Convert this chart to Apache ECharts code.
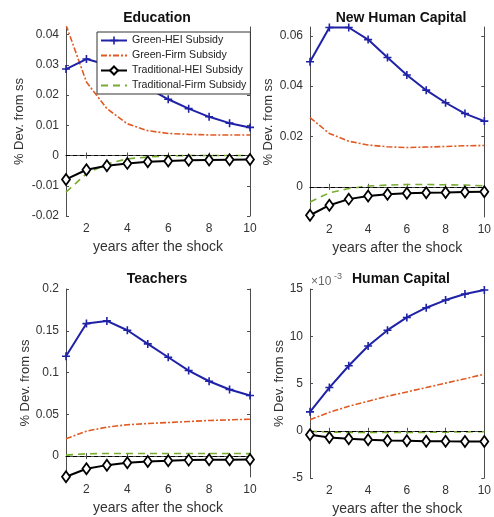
<!DOCTYPE html>
<html>
<head>
<meta charset="utf-8">
<script src="https://cdn.jsdelivr.net/npm/echarts@6/dist/echarts.min.js"></script>
<style>
html,body{margin:0;padding:0;background:#fff;}
#chart{width:494px;height:517px;}
</style>
</head>
<body>
<div id="chart"></div>
<script>
// ---------- data ----------
const years = [1,2,3,4,5,6,7,8,9,10];
const seriesNames = ['Green-HEI Subsidy','Green-Firm Subsidy','Traditional-HEI Subsidy','Traditional-Firm Subsidy'];
const panelTitles = ['Education','New Human Capital','Teachers','Human Capital'];
const xTicks = [2,4,6,8,10];

// Education
const eduGreenHEI  = [0.0286,0.0319,0.0300,0.0262,0.0224,0.0186,0.0155,0.0128,0.0107,0.0093];
const eduGreenFirm = [0.0432,0.0243,0.0155,0.0105,0.0082,0.0073,0.0070,0.0068,0.0068,0.0068];
const eduTradHEI   = [-0.0079,-0.0047,-0.0034,-0.0026,-0.0021,-0.0018,-0.0016,-0.0015,-0.0014,-0.0013];
const eduTradFirm  = [-0.0121,-0.0060,-0.0028,-0.0011,-0.0005,-0.0001,0.0000,0.0000,0.0000,0.0000];
const eduTicks = [-0.02,-0.01,0,0.01,0.02,0.03,0.04];

// New Human Capital
const nhcGreenHEI  = [0.0497,0.0633,0.0633,0.0585,0.0514,0.0444,0.0384,0.0334,0.0291,0.0261];
const nhcGreenFirm = [0.0275,0.0212,0.0181,0.0166,0.0159,0.0156,0.0158,0.0160,0.0163,0.0164];
const nhcTradHEI   = [-0.0113,-0.0073,-0.0049,-0.0037,-0.0030,-0.0026,-0.0024,-0.0023,-0.0021,-0.0020];
const nhcTradFirm  = [-0.0060,-0.0024,-0.0007,0.0003,0.0007,0.0009,0.0009,0.0008,0.0007,0.0004];
const nhcTicks = [0,0.02,0.04,0.06];

// Teachers
const teaGreenHEI  = [0.1195,0.1586,0.1618,0.1506,0.1343,0.1183,0.1024,0.0896,0.0797,0.0725];
const teaGreenFirm = [0.0207,0.0299,0.0347,0.0375,0.0390,0.0402,0.0414,0.0426,0.0434,0.0442];
const teaTradHEI   = [-0.0247,-0.0151,-0.0108,-0.0080,-0.0064,-0.0056,-0.0048,-0.0044,-0.0044,-0.0040];
const teaTradFirm  = [0.0012,0.0028,0.0032,0.0032,0.0032,0.0032,0.0032,0.0032,0.0031,0.0030];
const teaTicks = [0,0.05,0.1,0.15,0.2];

// Human Capital (x 10^-3)
const hcGreenHEI  = [2.00,4.57,6.88,8.97,10.64,11.99,13.02,13.83,14.47,14.90];
const hcGreenFirm = [1.17,1.95,2.59,3.12,3.65,4.11,4.57,5.04,5.50,5.99];
const hcTradHEI   = [-0.43,-0.71,-0.85,-0.96,-1.03,-1.06,-1.10,-1.12,-1.13,-1.14];
const hcTradFirm  = [-0.07,-0.14,-0.18,-0.18,-0.18,-0.18,-0.17,-0.15,-0.12,-0.10];
const hcTicks = [-5,0,5,10,15];

// ---------- layout / style ----------
const FONT = 'Liberation Sans, Arial, Helvetica, sans-serif';
const AX = '#4d4d4d';
const TXT = '#333';
const panels = [
  {grid:{left:66, top:27, width:184, height:189}, min:-0.02, max:0.0425, ticks:eduTicks, data:[eduGreenHEI,eduGreenFirm,eduTradHEI,eduTradFirm], nameGap:40, cx:157, ty:17},
  {grid:{left:310, top:27, width:184, height:190}, min:-0.012, max:0.0635, ticks:nhcTicks, data:[nhcGreenHEI,nhcGreenFirm,nhcTradHEI,nhcTradFirm], nameGap:35, cx:401, ty:17},
  {grid:{left:66, top:289, width:184, height:188}, min:-0.025, max:0.2, ticks:teaTicks, data:[teaGreenHEI,teaGreenFirm,teaTradHEI,teaTradFirm], nameGap:34, cx:157, ty:278},
  {grid:{left:310, top:289, width:184, height:189}, min:-5, max:15, ticks:hcTicks, data:[hcGreenHEI,hcGreenFirm,hcTradHEI,hcTradFirm], nameGap:23, cx:401, ty:278}
];

const BLUE = '#1f22a6', ORANGE = '#e25a22', GREEN = '#77ac30', BLACK = '#000';
const plusPath = 'path://M4,0h2v4h4v2h-4v4h-2v-4h-4v-2h4z';
const CLEAR = 'rgba(0,0,0,0)';

const grids = [], xAxes = [], yAxes = [], series = [], titles = [];
panels.forEach((p, i) => {
  grids.push(Object.assign({containLabel:false}, p.grid));
  const axLine = {show:true, lineStyle:{color:AX, width:1}};
  xAxes.push({type:'value', gridIndex:i, min:1, max:10, position:'bottom',
    axisLine:axLine, splitLine:{show:false},
    axisTick:{inside:true, length:3, lineStyle:{color:AX}, customValues:xTicks},
    axisLabel:{fontSize:12, color:TXT, fontFamily:FONT, margin:7, customValues:xTicks},
    name:'years after the shock', nameLocation:'middle', nameGap:24,
    nameTextStyle:{fontSize:14, color:TXT, fontFamily:FONT}});
  xAxes.push({type:'value', gridIndex:i, min:1, max:10, position:'top',
    axisLine:axLine, splitLine:{show:false},
    axisTick:{inside:true, length:3, lineStyle:{color:AX}, customValues:xTicks},
    axisLabel:{show:false}});
  yAxes.push({type:'value', gridIndex:i, min:p.min, max:p.max, position:'left',
    axisLine:axLine, splitLine:{show:false},
    axisTick:{inside:true, length:3, lineStyle:{color:AX}, customValues:p.ticks},
    axisLabel:{fontSize:12, color:TXT, fontFamily:FONT, margin:7, customValues:p.ticks},
    name:'% Dev. from ss', nameLocation:'middle', nameGap:p.nameGap,
    nameTextStyle:{fontSize:13, color:TXT, fontFamily:FONT}});
  yAxes.push({type:'value', gridIndex:i, min:p.min, max:p.max, position:'right',
    axisLine:axLine, splitLine:{show:false},
    axisTick:{inside:true, length:3, lineStyle:{color:AX}, customValues:p.ticks},
    axisLabel:{show:false}});

  const xi = i*2, yi = i*2;
  const pts = arr => years.map((x,k) => [x, arr[k]]);
  series.push({name:seriesNames[0], type:'line', xAxisIndex:xi, yAxisIndex:yi, data:pts(p.data[0]),
    symbol:plusPath, symbolSize:8, itemStyle:{color:BLUE}, lineStyle:{color:BLUE, width:2},
    z:4,
    markLine:{silent:true, symbol:'none', label:{show:false}, animation:false,
      lineStyle:{color:'#000', type:[4,3], width:1}, data:[{yAxis:0}]}});
  series.push({name:seriesNames[1], type:'line', xAxisIndex:xi, yAxisIndex:yi, data:pts(p.data[1]),
    symbol:'circle', showSymbol:false, itemStyle:{color:CLEAR, borderWidth:0}, lineStyle:{color:ORANGE, width:1.6, type:[6,2,2,2]}, z:3});
  series.push({name:seriesNames[2], type:'line', xAxisIndex:xi, yAxisIndex:yi, data:pts(p.data[2]),
    symbol:'diamond', symbolSize:[8,11], itemStyle:{color:'#fff', borderColor:BLACK, borderWidth:1.8},
    lineStyle:{color:BLACK, width:2}, z:5});
  series.push({name:seriesNames[3], type:'line', xAxisIndex:xi, yAxisIndex:yi, data:pts(p.data[3]),
    symbol:'circle', showSymbol:false, itemStyle:{color:CLEAR, borderWidth:0}, lineStyle:{color:GREEN, width:1.6, type:[7,5]}, z:3});

  titles.push({text:panelTitles[i], left:p.cx, top:p.ty-6, textAlign:'center', padding:0,
    textStyle:{fontSize:14, fontWeight:'bold', color:'#111', fontFamily:FONT}});
});

const option = {
  animation:false,
  backgroundColor:'#fff',
  title: titles,
  legend:{
    data:seriesNames, orient:'vertical', left:97, top:32,
    itemWidth:26, itemHeight:10, itemGap:4, padding:[3,4,3,3],
    borderColor:'#333', borderWidth:1, backgroundColor:'#fff',
    textStyle:{fontSize:10.6, color:'#222', fontFamily:FONT, lineHeight:11},
    z:10
  },
  grid: grids,
  xAxis: xAxes,
  yAxis: yAxes,
  series: series,
  graphic:[
    {type:'text', left:311, top:276, z:10, style:{text:'×10', fontSize:12, fill:'#666', fontFamily:FONT}},
    {type:'text', left:334, top:272, z:10, style:{text:'-3', fontSize:9, fill:'#666', fontFamily:FONT}}
  ]
};

const chart = echarts.init(document.getElementById('chart'), null, {renderer:'canvas'});
chart.setOption(option);
</script>
</body>
</html>
